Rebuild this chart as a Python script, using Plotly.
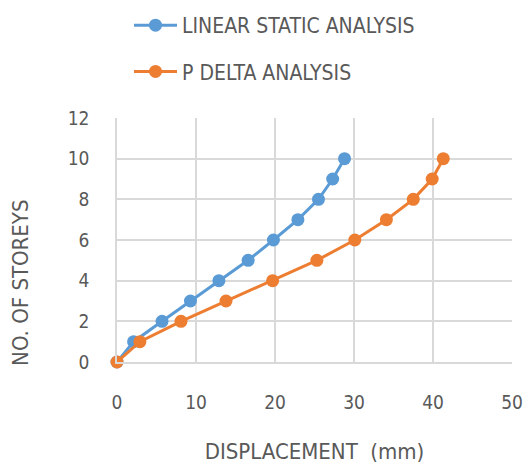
import plotly.graph_objects as go

# Storey levels and lateral displacement (mm) for each analysis type
storeys = [0, 1, 2, 3, 4, 5, 6, 7, 8, 9, 10]
linear_static = [0, 2.1, 5.7, 9.3, 12.9, 16.6, 19.8, 22.9, 25.5, 27.3, 28.8]
p_delta = [0, 2.9, 8.1, 13.8, 19.7, 25.3, 30.1, 34.1, 37.5, 39.9, 41.3]

x_ticks = [0, 10, 20, 30, 40, 50]
y_ticks = [0, 2, 4, 6, 8, 10, 12]

BLUE = "#5B9BD5"
ORANGE = "#ED7D31"
GRID = "#D9D9D9"
TEXT = "#595959"
FONT = "DejaVu Sans Condensed, DejaVu Sans, sans-serif"

fig = go.Figure()
fig.add_trace(go.Scatter(
    x=linear_static, y=storeys, mode="lines+markers",
    name="LINEAR STATIC ANALYSIS", legendgroup="a",
    line=dict(color=BLUE, width=3),
    marker=dict(color=BLUE, size=13),
    cliponaxis=False,
))
fig.add_trace(go.Scatter(
    x=p_delta, y=storeys, mode="lines+markers",
    name="P DELTA ANALYSIS", legendgroup="b",
    line=dict(color=ORANGE, width=3),
    marker=dict(color=ORANGE, size=13),
    cliponaxis=False,
))

fig.update_layout(
    width=526, height=464,
    margin=dict(l=117, r=14, t=118, b=102, autoexpand=False),
    paper_bgcolor="white", plot_bgcolor="white",
    font=dict(family=FONT, color=TEXT, size=17),
    showlegend=True,
    legend=dict(
        x=129 / 526, y=1 - 5 / 464, xref="container", yref="container",
        xanchor="left", yanchor="top",
        orientation="v", traceorder="grouped",
        tracegroupgap=16,
        font=dict(family=FONT, color=TEXT, size=21),
        bgcolor="rgba(0,0,0,0)",
        itemwidth=43,
    ),
    xaxis=dict(
        range=[0, 50], tickvals=x_ticks, ticktext=[str(v) for v in x_ticks],
        showgrid=True, gridcolor=GRID, gridwidth=1.5,
        showline=True, linecolor=GRID, linewidth=1.5,
        zeroline=False, ticks="", ticklabelstandoff=22,
        tickfont=dict(family=FONT, color=TEXT, size=19),
        title=dict(text="DISPLACEMENT  (mm)", standoff=32,
                   font=dict(family=FONT, color=TEXT, size=22)),
    ),
    yaxis=dict(
        range=[0, 12], tickvals=y_ticks, ticktext=[str(v) for v in y_ticks],
        showgrid=True, gridcolor=GRID, gridwidth=1.5,
        showline=True, linecolor=GRID, linewidth=1.5,
        zeroline=False, ticks="", ticklabelstandoff=22,
        tickfont=dict(family=FONT, color=TEXT, size=19),
    ),
    annotations=[dict(
        text="NO. OF STOREYS", textangle=-90,
        xref="paper", yref="y", x=-0.245, y=3.9,
        xanchor="center", yanchor="middle", showarrow=False,
        font=dict(family=FONT, color=TEXT, size=22),
    )],
)

fig.write_html("out.html")
